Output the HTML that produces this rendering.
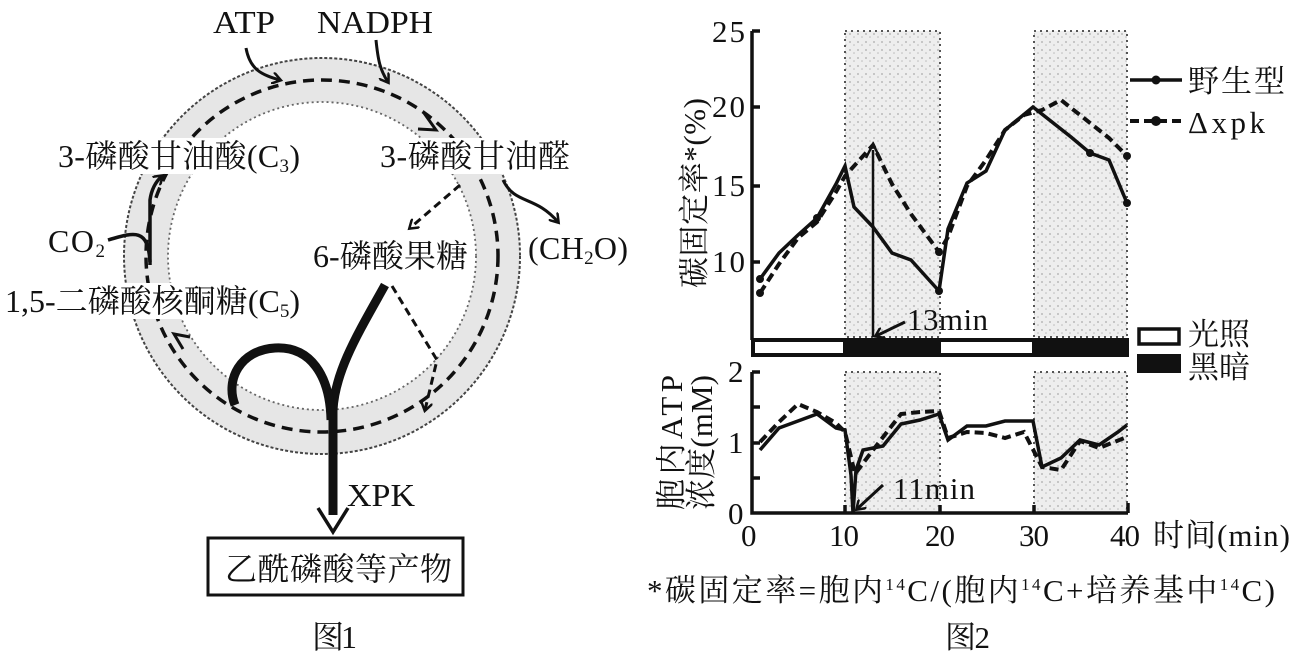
<!DOCTYPE html>
<html><head><meta charset="utf-8"><style>
html,body{margin:0;padding:0;background:#fff;}
svg{display:block;}
text{font-family:"Liberation Serif","Noto Serif CJK SC","Noto Sans CJK SC",serif;fill:#111;}
</style></head><body>
<svg width="1298" height="658" viewBox="0 0 1298 658" xmlns="http://www.w3.org/2000/svg">
<defs>
<pattern id="st" width="8" height="8" patternUnits="userSpaceOnUse">
<rect width="8" height="8" fill="#eee"/>
<circle cx="2" cy="2" r="0.9" fill="#aaa"/><circle cx="6" cy="5" r="0.8" fill="#bbb"/>
</pattern>
<marker id="ah" markerWidth="12" markerHeight="12" refX="8" refY="6" orient="auto" markerUnits="userSpaceOnUse"><path d="M0,0 L9,6 L0,12" fill="none" stroke="#111" stroke-width="2.5"/></marker>
</defs>

<!-- FIGURE 1 -->
<circle cx="322" cy="256" r="176" fill="none" stroke="#e6e6e6" stroke-width="44"/>
<circle cx="322" cy="256" r="198" fill="none" stroke="#444" stroke-width="2" stroke-dasharray="3 2"/>
<circle cx="322" cy="256" r="154" fill="none" stroke="#666" stroke-width="1.8" stroke-dasharray="2 3"/>
<circle cx="322" cy="256" r="176" fill="none" stroke="#111" stroke-width="3.5" stroke-dasharray="11 7"/>
<rect x="55" y="138" width="250" height="36" fill="#fff"/>
<rect x="378" y="138" width="195" height="36" fill="#fff"/>
<rect x="3" y="283" width="300" height="36" fill="#fff"/>
<rect x="310" y="238" width="160" height="36" fill="#fff"/>
<path d="M424,113 L436,130 L418,129" fill="none" stroke="#111" stroke-width="3"/>
<path d="M183,349 L174,334 L190,337" fill="none" stroke="#111" stroke-width="3"/>
<path d="M246,48 C250,70 262,75 280,80" fill="none" stroke="#111" stroke-width="3" marker-end="url(#ah)"/>
<path d="M376,40 C378,60 380,70 388,82" fill="none" stroke="#111" stroke-width="3" marker-end="url(#ah)"/>
<path d="M108,240 C135,232 148,228 150,262" fill="none" stroke="#111" stroke-width="3.5"/>
<path d="M150,265 L150,200 Q152,185 162,176" fill="none" stroke="#111" stroke-width="3.5" marker-end="url(#ah)"/>
<path d="M503,180 C515,205 535,195 558,222" fill="none" stroke="#111" stroke-width="3" marker-end="url(#ah)"/>
<path d="M460,185 L410,228" fill="none" stroke="#111" stroke-width="3" stroke-dasharray="8 5" marker-end="url(#ah)"/>
<path d="M392,286 L437,360 L425,410" fill="none" stroke="#111" stroke-width="3" stroke-dasharray="8 5" marker-end="url(#ah)"/>
<path d="M385,285 C360,330 335,370 333,410 L333,515" fill="none" stroke="#111" stroke-width="9"/>
<path d="M235,405 C225,380 240,350 275,348 C310,346 330,375 331,420" fill="none" stroke="#111" stroke-width="9"/>
<path d="M318,508 L333,532 L348,508" fill="none" stroke="#111" stroke-width="3.5"/>
<rect x="208" y="538" width="255" height="57" fill="#fff" stroke="#111" stroke-width="3"/>
<g font-size="32">
<text x="213" y="33" textLength="62" lengthAdjust="spacingAndGlyphs">ATP</text>
<text x="317" y="33" textLength="116" lengthAdjust="spacingAndGlyphs">NADPH</text>
<text x="58" y="167" textLength="242">3-磷酸甘油酸(C<tspan font-size="19" dy="5">3</tspan><tspan dy="-5">)</tspan></text>
<text x="380" y="167" textLength="190">3-磷酸甘油醛</text>
<text x="48" y="252" textLength="57">CO<tspan font-size="19" dy="5">2</tspan></text>
<text x="528" y="259" textLength="100">(CH<tspan font-size="19" dy="5">2</tspan><tspan dy="-5">O)</tspan></text>
<text x="313" y="267" textLength="155">6-磷酸果糖</text>
<text x="5" y="312" textLength="295">1,5-二磷酸核酮糖(C<tspan font-size="19" dy="5">5</tspan><tspan dy="-5">)</tspan></text>
<text x="347" y="506" textLength="68" lengthAdjust="spacingAndGlyphs">XPK</text>
<text x="225" y="580" textLength="227">乙酰磷酸等产物</text>
<text x="312" y="648" textLength="45">图1</text>
</g>

<!-- FIGURE 2 -->
<g fill="url(#st)" stroke="#555" stroke-width="2" stroke-dasharray="2 4">
<rect x="845" y="31" width="95" height="306"/>
<rect x="1034" y="31" width="93" height="306"/>
<rect x="845" y="372" width="95" height="141"/>
<rect x="1034" y="372" width="93" height="141"/>
</g>
<g stroke="#111" stroke-width="3.5" fill="none">
<path d="M752,31 L752,340"/>
<path d="M752,31 h8 M752,107 h8 M752,186 h8 M752,262 h8"/>
<path d="M752,372 L752,513 L1128,513"/>
<path d="M752,372 h8 M752,407 h8 M752,443 h8 M752,478 h8"/>
<path d="M845,513 v-8 M940,513 v-8 M1034,513 v-8 M1128,513 v-10"/>
</g>
<rect x="751" y="338" width="378" height="19" fill="#111"/>
<rect x="755" y="342" width="88" height="11" fill="#fff"/>
<rect x="941" y="342" width="91" height="11" fill="#fff"/>
<rect x="1139" y="329" width="40" height="15" fill="#fff" stroke="#111" stroke-width="3.5"/>
<rect x="1137" y="354" width="44" height="19" fill="#111"/>
<polyline fill="none" stroke="#111" stroke-width="3.5" points="760,279 779,253 798,235 817,218 836,184 845,166 854,207 873,227 892,253 911,260 939,291 948,229 967,183 986,171 1005,130 1033,107 1052,122 1071,137 1090,153 1109,160 1127,203"/>
<polyline fill="none" stroke="#111" stroke-width="4" stroke-dasharray="9 5" points="760,293 779,264 798,238 817,222 836,192 845,176 873,145 892,184 911,214 939,252 948,237 967,186 986,160 1005,130 1024,115 1042,110 1061,100 1080,115 1109,138 1127,156"/>
<g fill="#111">
<circle cx="760" cy="279" r="4"/><circle cx="817" cy="218" r="4"/><circle cx="939" cy="291" r="4"/><circle cx="1127" cy="203" r="4"/><circle cx="1090" cy="153" r="4"/>
<circle cx="760" cy="293" r="4"/><circle cx="1127" cy="156" r="4"/><circle cx="939" cy="252" r="4"/>
</g>
<line x1="873" y1="337" x2="873" y2="150" stroke="#111" stroke-width="2.5"/>
<path d="M866,158 L873,144 L880,158" fill="none" stroke="#111" stroke-width="2.5"/>
<line x1="905" y1="322" x2="876" y2="336" stroke="#111" stroke-width="3" marker-end="url(#ah)"/>
<polyline fill="none" stroke="#111" stroke-width="3.5" points="760,450 779,428 798,421 817,414 836,428 845,430 851,475 853,513 856,470 863,450 883,446 901,424 920,420 939,414 948,440 967,426 986,426 1005,421 1033,421 1042,467 1061,458 1080,440 1099,445 1118,432 1127,425"/>
<polyline fill="none" stroke="#111" stroke-width="4" stroke-dasharray="9 5" points="760,442 779,422 798,404 817,412 836,423 845,432 855,474 873,450 901,414 920,412 939,411 948,438 967,432 986,433 1005,438 1024,432 1042,467 1061,470 1080,441 1099,448 1127,437"/>
<line x1="883" y1="485" x2="857" y2="509" stroke="#111" stroke-width="3" marker-end="url(#ah)"/>
<line x1="1130" y1="80" x2="1182" y2="80" stroke="#111" stroke-width="3.5"/>
<circle cx="1156" cy="80" r="4.5" fill="#111"/>
<line x1="1130" y1="121" x2="1182" y2="121" stroke="#111" stroke-width="4" stroke-dasharray="9 5"/>
<circle cx="1156" cy="121" r="5" fill="#111"/>
<g font-size="31">
<text x="712" y="42" textLength="33">25</text><text x="712" y="117" textLength="33">20</text><text x="712" y="196" textLength="33">15</text><text x="712" y="272" textLength="33">10</text>
<text x="728" y="382">2</text><text x="728" y="453">1</text><text x="728" y="524">0</text>
<text x="741" y="546">0</text><text x="829" y="546" textLength="30">10</text><text x="925" y="546" textLength="30">20</text><text x="1019" y="546" textLength="30">30</text><text x="1110" y="546" textLength="30">40</text>
<text x="1153" y="546" textLength="137">时间(min)</text>
<text x="1188" y="92" textLength="97">野生型</text>
<text x="1188" y="133" textLength="77">Δxpk</text>
<text x="1188" y="345">光照</text>
<text x="1188" y="378">黑暗</text>
<text x="907" y="330" textLength="81">13min</text>
<text x="893" y="499" textLength="82">11min</text>
<text x="0" y="0" transform="translate(705,288) rotate(-90)" textLength="190">碳固定率*(%)</text>
<text x="0" y="0" transform="translate(682,510) rotate(-90)" textLength="135">胞内ATP</text>
<text x="0" y="0" transform="translate(712,510) rotate(-90)" textLength="135">浓度(mM)</text>
<text x="647" y="601" textLength="628">*碳固定率=胞内<tspan font-size="17" dy="-11">14</tspan><tspan dy="11">C/(胞内</tspan><tspan font-size="17" dy="-11">14</tspan><tspan dy="11">C+培养基中</tspan><tspan font-size="17" dy="-11">14</tspan><tspan dy="11">C)</tspan></text>
<text x="945" y="648" textLength="45">图2</text>
</g>
</svg>
</body></html>
